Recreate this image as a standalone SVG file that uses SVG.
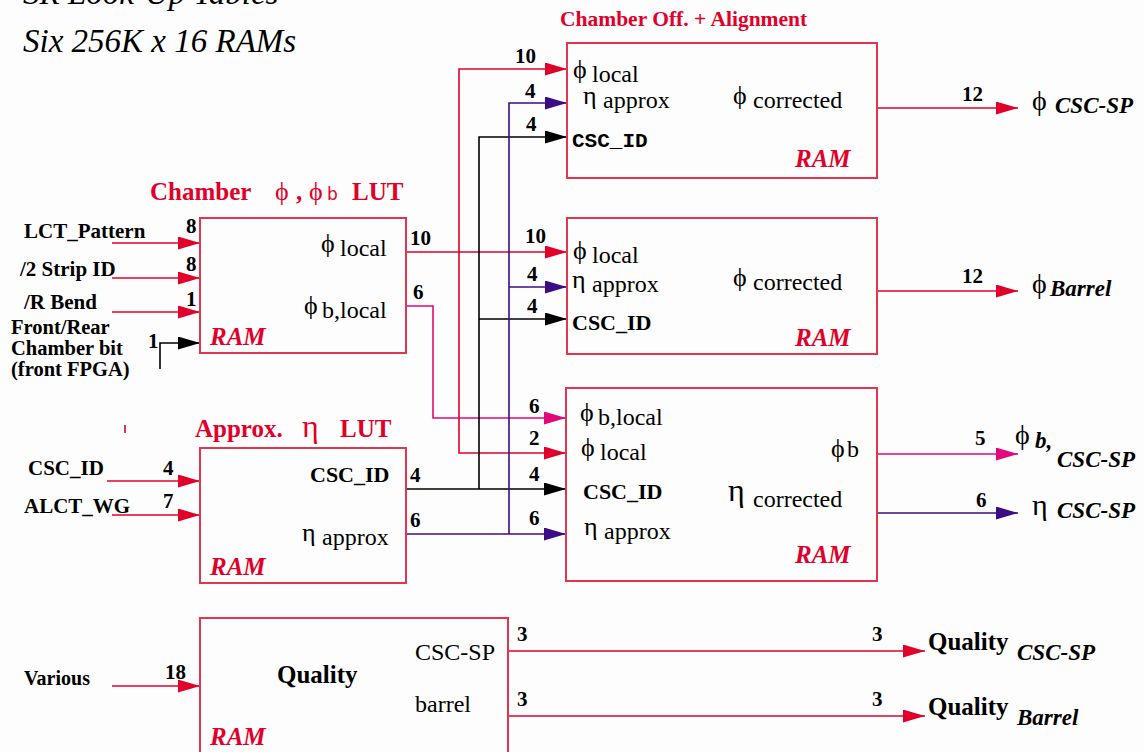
<svg xmlns="http://www.w3.org/2000/svg" width="1144" height="752" viewBox="0 0 1144 752" font-family="Liberation Serif, Times New Roman, Tinos, DejaVu Serif, serif">
<defs>
<style>
.box{fill:none;stroke:#e2364e;stroke-width:2}
.c{fill:none;stroke-width:1.6}
.r{stroke:#e0002a}.k{stroke:#000}.p{stroke:#3c0c84}.m{stroke:#e0087a}
.lbl{font-weight:bold;fill:#000}
.num{font-weight:bold;font-size:21px;fill:#000}
.txt{fill:#000}
.ram{font-weight:bold;font-style:italic;font-size:25px;fill:#e0002a}
.ttl{font-weight:bold;fill:#e0002a}
.bi{font-weight:bold;font-style:italic;font-size:23px;fill:#000}
.head{font-style:italic;font-size:33px;fill:#000}
</style>
<marker id="ar" markerUnits="userSpaceOnUse" markerWidth="22" markerHeight="13" refX="22" refY="6.5" orient="auto"><path d="M0,0L22,6.5L0,13z" fill="#e0002a"/></marker>
<marker id="ak" markerUnits="userSpaceOnUse" markerWidth="22" markerHeight="13" refX="22" refY="6.5" orient="auto"><path d="M0,0L22,6.5L0,13z" fill="#000"/></marker>
<marker id="ap" markerUnits="userSpaceOnUse" markerWidth="22" markerHeight="13" refX="22" refY="6.5" orient="auto"><path d="M0,0L22,6.5L0,13z" fill="#3c0c84"/></marker>
<marker id="am" markerUnits="userSpaceOnUse" markerWidth="22" markerHeight="13" refX="22" refY="6.5" orient="auto"><path d="M0,0L22,6.5L0,13z" fill="#e0087a"/></marker>
</defs>
<rect width="1144" height="752" fill="#fdfdfd"/>

<g id="heading">
<text class="head" x="23" y="4">SR Look-Up Tables</text>
<text class="head" x="23" y="52">Six 256K x 16 RAMs</text>
</g>

<g id="connectors">
<path class="c r" d="M112,243H200" marker-end="url(#ar)"/>
<path class="c r" d="M112,278H200" marker-end="url(#ar)"/>
<path class="c r" d="M112,312H200" marker-end="url(#ar)"/>
<path class="c k" d="M160,369V343H200" marker-end="url(#ak)"/>
<path class="c r" d="M107,481H200" marker-end="url(#ar)"/>
<path class="c r" d="M112,515H200" marker-end="url(#ar)"/>
<path class="c r" d="M112,686H200" marker-end="url(#ar)"/>
<path class="c r" d="M406,252H567" marker-end="url(#ar)"/>
<path class="c r" d="M459,252V69H567" marker-end="url(#ar)"/>
<path class="c r" d="M459,252V453H566" marker-end="url(#ar)"/>
<path class="c m" d="M406,306H433V418H566" marker-end="url(#am)"/>
<path class="c k" d="M406,489H566" marker-end="url(#ak)"/>
<path class="c k" d="M479,489V137H567" marker-end="url(#ak)"/>
<path class="c k" d="M479,319H567" marker-end="url(#ak)"/>
<path class="c p" d="M406,534H566" marker-end="url(#ap)"/>
<path class="c p" d="M509,534V103H567" marker-end="url(#ap)"/>
<path class="c p" d="M509,287H567" marker-end="url(#ap)"/>
<path class="c r" d="M877,108H1018" marker-end="url(#ar)"/>
<path class="c r" d="M877,291H1018" marker-end="url(#ar)"/>
<path class="c m" d="M877,454H1018" marker-end="url(#am)"/>
<path class="c p" d="M877,513H1018" marker-end="url(#ap)"/>
<path class="c r" d="M508,651H925" marker-end="url(#ar)"/>
<path class="c r" d="M508,716H925" marker-end="url(#ar)"/>
<path class="c r" d="M125,425V433"/>
</g>

<g id="connector-labels">
<text class="num" x="186" y="233">8</text>
<text class="num" x="186" y="271">8</text>
<text class="num" x="186" y="306">1</text>
<text class="num" x="148" y="348">1</text>
<text class="num" x="163" y="475">4</text>
<text class="num" x="163" y="508">7</text>
<text class="num" x="165" y="679">18</text>
<text class="num" x="410" y="245">10</text>
<text class="num" x="413" y="299">6</text>
<text class="num" x="410" y="482">4</text>
<text class="num" x="410" y="527">6</text>
<text class="num" x="515" y="63">10</text>
<text class="num" x="525" y="98">4</text>
<text class="num" x="526" y="131">4</text>
<text class="num" x="525" y="243">10</text>
<text class="num" x="527" y="281">4</text>
<text class="num" x="527" y="313">4</text>
<text class="num" x="529" y="413">6</text>
<text class="num" x="529" y="445">2</text>
<text class="num" x="529" y="481">4</text>
<text class="num" x="529" y="525">6</text>
<text class="num" x="962" y="101">12</text>
<text class="num" x="962" y="283">12</text>
<text class="num" x="975" y="445">5</text>
<text class="num" x="976" y="507">6</text>
<text class="num" x="517" y="641">3</text>
<text class="num" x="872" y="641">3</text>
<text class="num" x="517" y="706">3</text>
<text class="num" x="872" y="706">3</text>
</g>

<g id="inputs">
<text class="lbl" x="24" y="238" style="font-size:21px">LCT_Pattern</text>
<text class="lbl" x="20" y="276" style="font-size:21px">/2 Strip ID</text>
<text class="lbl" x="24" y="309" style="font-size:21px">/R Bend</text>
<text class="lbl" x="11" y="334" style="font-size:20.5px">Front/Rear</text>
<text class="lbl" x="11" y="355" style="font-size:20.5px">Chamber bit</text>
<text class="lbl" x="11" y="376" style="font-size:20.5px">(front FPGA)</text>
<text class="lbl" x="28" y="475" style="font-size:21px">CSC_ID</text>
<text class="lbl" x="24" y="513" style="font-size:21px">ALCT_WG</text>
<text class="lbl" x="24" y="685" style="font-size:20px">Various</text>
</g>

<g id="chamber-lut">
<text class="ttl" y="200" style="font-size:25px"><tspan x="150">Chamber</tspan><tspan x="275" style="font-weight:normal;font-size:26px">ϕ</tspan><tspan x="296">,</tspan><tspan x="309" style="font-weight:normal;font-size:26px">ϕ</tspan><tspan x="327" style="font-family:'DejaVu Sans',sans-serif;font-weight:normal;font-size:17px">b</tspan><tspan x="352">LUT</tspan></text>
<rect class="box" x="200" y="218" width="206" height="135"/>
<text class="txt" x="321" y="252" style="font-size:26px">ϕ<tspan x="340" y="256" style="font-size:24px">local</tspan></text>
<text class="txt" x="304" y="314" style="font-size:26px">ϕ<tspan x="322" y="318" style="font-size:24px">b,local</tspan></text>
<text class="ram" x="210" y="345">RAM</text>
</g>

<g id="approx-eta-lut">
<text class="ttl" y="437" style="font-size:25px"><tspan x="195">Approx.</tspan><tspan x="302" style="font-weight:normal;font-size:32px">η</tspan><tspan x="340">LUT</tspan></text>
<rect class="box" x="200" y="448" width="206" height="135"/>
<text class="lbl" x="310" y="482" style="font-size:22px">CSC_ID</text>
<text class="txt" x="302" y="541" style="font-size:26px">η<tspan x="322" y="545" style="font-size:24px">approx</tspan></text>
<text class="ram" x="210" y="575">RAM</text>
</g>

<g id="quality">
<rect class="box" x="200" y="618" width="308" height="150"/>
<text class="lbl" x="277" y="683" style="font-size:25px">Quality</text>
<text class="txt" x="415" y="660" style="font-size:24px">CSC-SP</text>
<text class="txt" x="415" y="712" style="font-size:24px">barrel</text>
<text class="ram" x="210" y="745">RAM</text>
</g>

<g id="chamber-offset-csc">
<text class="ttl" x="560" y="26" style="font-size:21.5px">Chamber Off. + Alignment</text>
<rect class="box" x="567" y="43" width="310" height="135"/>
<text class="txt" x="573" y="78" style="font-size:26px">ϕ<tspan x="592" y="82" style="font-size:24px">local</tspan></text>
<text class="txt" x="583" y="104" style="font-size:26px">η<tspan x="603" y="108" style="font-size:24px">approx</tspan></text>
<text class="lbl" x="572" y="147" style="font-family:'Liberation Mono','Courier New',monospace;font-size:21px">CSC_ID</text>
<text class="txt" x="733" y="104" style="font-size:26px">ϕ<tspan x="753" y="108" style="font-size:24px">corrected</tspan></text>
<text class="ram" x="795" y="167">RAM</text>
</g>

<g id="chamber-offset-barrel">
<rect class="box" x="567" y="218" width="310" height="136"/>
<text class="txt" x="573" y="259" style="font-size:26px">ϕ<tspan x="592" y="263" style="font-size:24px">local</tspan></text>
<text class="txt" x="572" y="288" style="font-size:26px">η<tspan x="592" y="292" style="font-size:24px">approx</tspan></text>
<text class="lbl" x="572" y="330" style="font-size:22px">CSC_ID</text>
<text class="txt" x="733" y="286" style="font-size:26px">ϕ<tspan x="753" y="290" style="font-size:24px">corrected</tspan></text>
<text class="ram" x="795" y="346">RAM</text>
</g>

<g id="phi-b-eta-ram">
<rect class="box" x="566" y="388" width="311" height="193"/>
<text class="txt" x="580" y="421" style="font-size:26px">ϕ<tspan x="598" y="425" style="font-size:24px">b,local</tspan></text>
<text class="txt" x="581" y="456" style="font-size:26px">ϕ<tspan x="600" y="460" style="font-size:24px">local</tspan></text>
<text class="lbl" x="583" y="499" style="font-size:22px">CSC_ID</text>
<text class="txt" x="584" y="535" style="font-size:26px">η<tspan x="604" y="539" style="font-size:24px">approx</tspan></text>
<text class="txt" x="831" y="457" style="font-size:26px">ϕ<tspan x="847" style="font-size:24px">b</tspan></text>
<text class="txt" x="728" y="501" style="font-size:32px">η<tspan x="753" y="507" style="font-size:24px">corrected</tspan></text>
<text class="ram" x="795" y="563">RAM</text>
</g>

<g id="outputs">
<text class="txt" x="1032" y="110" style="font-size:28px">ϕ<tspan class="bi" x="1055" y="113">CSC-SP</tspan></text>
<text class="txt" x="1032" y="293" style="font-size:28px">ϕ<tspan class="bi" x="1050" y="296">Barrel</tspan></text>
<text class="txt" x="1015" y="444" style="font-size:28px">ϕ<tspan class="bi" x="1035" y="448">b,</tspan><tspan class="bi" x="1057" y="467">CSC-SP</tspan></text>
<text class="txt" x="1032" y="515" style="font-size:30px">η<tspan class="bi" x="1057" y="518">CSC-SP</tspan></text>
<text class="lbl" x="928" y="650" style="font-size:25px">Quality<tspan class="bi" x="1017" y="660">CSC-SP</tspan></text>
<text class="lbl" x="928" y="715" style="font-size:25px">Quality<tspan class="bi" x="1017" y="725">Barrel</tspan></text>
</g>
</svg>
